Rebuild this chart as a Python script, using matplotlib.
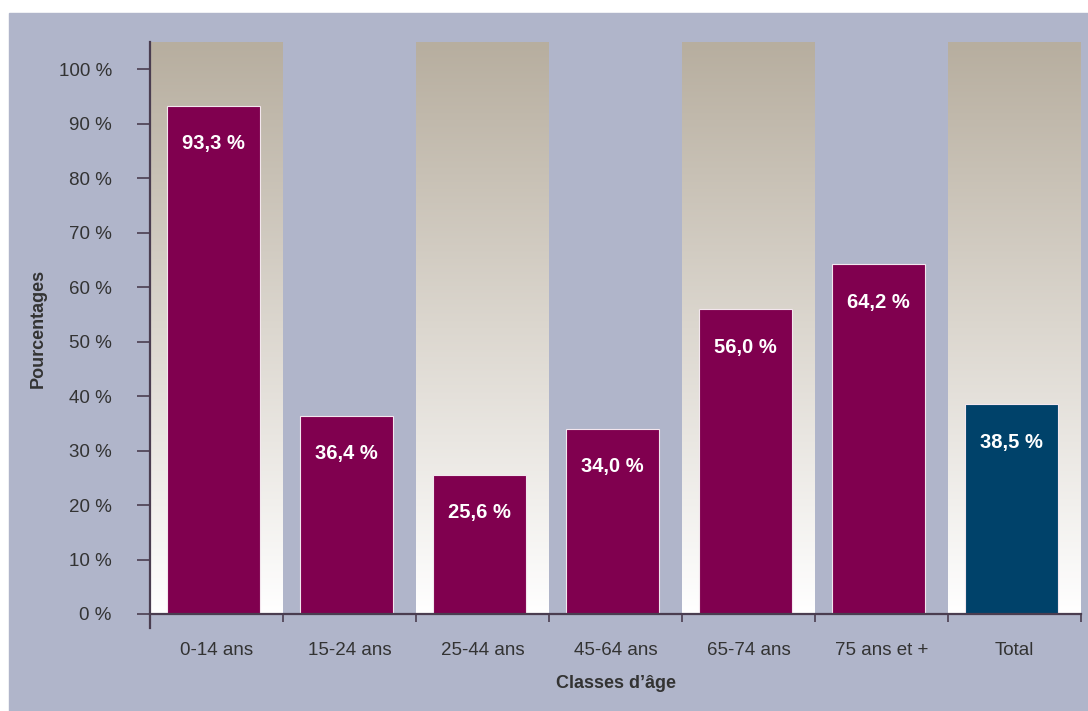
import matplotlib
matplotlib.use("Agg")
import matplotlib.pyplot as plt
import numpy as np
from matplotlib import font_manager
from matplotlib.patches import Rectangle
from matplotlib.colors import LinearSegmentedColormap

categories = ["0-14 ans", "15-24 ans", "25-44 ans", "45-64 ans",
              "65-74 ans", "75 ans et +", "Total"]
values = [93.3, 36.4, 25.6, 34.0, 56.0, 64.2, 38.5]
labels = ["93,3 %", "36,4 %", "25,6 %", "34,0 %", "56,0 %", "64,2 %", "38,5 %"]
yticks = [0, 10, 20, 30, 40, 50, 60, 70, 80, 90, 100]

names = {f.name for f in font_manager.fontManager.ttflist}
fam = "Liberation Sans Narrow" if "Liberation Sans Narrow" in names else "Liberation Sans"
plt.rcParams['font.family'] = [fam, 'DejaVu Sans']

panel = "#b0b5ca"
maroon = "#80004f"
navy = "#00426a"
axcol = "#4a3d50"
txt = "#333333"

fig = plt.figure(figsize=(10.88, 7.11), dpi=100)
fig.patch.set_facecolor("white")
fig.patches.append(Rectangle((9 / 1088, 0), 1, (711 - 13) / 711,
                             transform=fig.transFigure, color=panel, zorder=-10))

ax = fig.add_axes([150 / 1088, (711 - 614) / 711, 931 / 1088, 572 / 711])
ax.set_facecolor("none")
ax.set_xlim(0, len(categories))
ax.set_ylim(0, 105)

# gradient bands behind every other column
grad = LinearSegmentedColormap.from_list("band", ["#ffffff", "#dcd7cf", "#b7ae9f"])
g = np.linspace(0, 1, 256).reshape(-1, 1)
for i in range(0, len(categories), 2):
    ax.imshow(g, cmap=grad, origin="lower", aspect="auto",
              extent=(i, i + 1, 0, 105), zorder=0)

x = np.arange(len(categories)) + 0.475
colors = [maroon] * (len(categories) - 1) + [navy]
ax.bar(x, values, width=0.70, color=colors, edgecolor="#f3e6ee", linewidth=0.8, zorder=2)

for xi, v, lab in zip(x, values, labels):
    ax.text(xi, v - 7.0, lab, ha="center", va="center", color="white",
            fontsize=14.5, fontweight="bold", zorder=3)

ax.set_yticks(yticks)
ax.set_yticklabels([f"{t} %" for t in yticks])
ax.set_xticks(np.arange(len(categories) + 1))
ax.set_xticklabels([])
ax.set_xticks(np.arange(len(categories)) + 0.5, minor=True)
ax.set_xticklabels(categories, minor=True)

ax.tick_params(axis="y", length=9.5, width=1.2, color=axcol, pad=18,
               labelsize=13.5, labelcolor=txt)
ax.tick_params(axis="x", which="major", length=6, width=1.2, color=axcol, direction="out")
ax.tick_params(axis="x", which="minor", length=0, pad=20, labelsize=13.5, labelcolor=txt)

for s in ["top", "right"]:
    ax.spines[s].set_visible(False)
for s in ["left", "bottom"]:
    ax.spines[s].set_color(axcol)
    ax.spines[s].set_linewidth(1.6)
ax.spines["left"].set_bounds(-2.6, 105)
ax.spines["bottom"].set_zorder(4)

ax.set_ylabel("Pourcentages", fontsize=13, fontweight="bold", color=txt)
ax.set_xlabel("Classes d\u2019âge", fontsize=13, fontweight="bold", color=txt, labelpad=12)
ax.yaxis.set_label_coords(-0.111, 0.5)

fig.savefig("out.png", dpi=100, facecolor=fig.get_facecolor())
